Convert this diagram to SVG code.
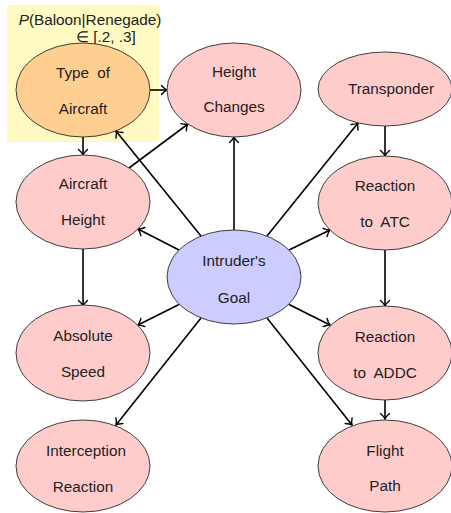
<svg xmlns="http://www.w3.org/2000/svg" width="451" height="513" viewBox="0 0 451 513">
<style>
.n{stroke:#2a2a2a;stroke-width:0.9}
.p{fill:#ffcccc}
.t{font-family:"Liberation Sans",Arial,sans-serif;font-size:15.3px;fill:#222;text-anchor:middle;dominant-baseline:central}
.c{stroke:#000;stroke-width:1.6;fill:none;marker-end:url(#a)}
</style>
<defs>
<marker id="a" markerUnits="userSpaceOnUse" markerWidth="14" markerHeight="14" viewBox="-7 -7 14 14" refX="0" refY="0" orient="auto">
<path d="M-5.5,-4.5 C-3,-1.6 -1,-0.4 0,0 C-1,0.4 -3,1.6 -5.5,4.5" fill="none" stroke="#000" stroke-width="1.4" stroke-linecap="round"/>
</marker>
</defs>
<rect x="7" y="5" width="152" height="137" fill="#fffac2"/>
<g id="label">
<text x="90" y="19" class="t" font-size="15px"><tspan font-style="italic">P</tspan>(Baloon|Renegade)</text>
<text x="106" y="36" class="t" font-size="15px">∈ [.2, .3]</text>
</g>
<g id="connectors">
<line class="c" x1="150" y1="90" x2="167" y2="90"/>
<line class="c" x1="83" y1="137" x2="83" y2="155"/>
<line class="c" x1="129" y1="168" x2="188" y2="124"/>
<line class="c" x1="201" y1="236" x2="116" y2="131"/>
<line class="c" x1="234" y1="230" x2="234" y2="137"/>
<line class="c" x1="267" y1="236" x2="358" y2="123"/>
<line class="c" x1="289" y1="250" x2="330" y2="230"/>
<line class="c" x1="179" y1="250" x2="138" y2="229"/>
<line class="c" x1="179" y1="304.5" x2="138" y2="325"/>
<line class="c" x1="289" y1="304.5" x2="330" y2="325"/>
<line class="c" x1="201" y1="318" x2="116" y2="425"/>
<line class="c" x1="267" y1="318" x2="352" y2="425"/>
<line class="c" x1="83" y1="249" x2="83" y2="306"/>
<line class="c" x1="385" y1="126" x2="385" y2="156"/>
<line class="c" x1="385" y1="250" x2="385" y2="306"/>
<line class="c" x1="385" y1="400" x2="385" y2="419"/>
</g>
<g id="type-of-aircraft">
<ellipse class="n" cx="83" cy="90" rx="67" ry="47" fill="#ffcf92"/>
<text class="t" x="83" y="72" word-spacing="4">Type of</text>
<text class="t" x="83" y="108">Aircraft</text>
</g>
<g id="height-changes">
<ellipse class="n p" cx="234" cy="90" rx="67" ry="47"/>
<text class="t" x="234" y="71">Height</text>
<text class="t" x="234" y="106">Changes</text>
</g>
<g id="transponder">
<ellipse class="n p" cx="385" cy="89" rx="67" ry="37"/>
<text class="t" x="391" y="88">Transponder</text>
</g>
<g id="aircraft-height">
<ellipse class="n p" cx="83" cy="202" rx="67" ry="47"/>
<text class="t" x="83" y="183">Aircraft</text>
<text class="t" x="83" y="219">Height</text>
</g>
<g id="reaction-to-atc">
<ellipse class="n p" cx="385" cy="203" rx="67" ry="47"/>
<text class="t" x="385" y="185">Reaction</text>
<text class="t" x="385" y="221" word-spacing="4">to ATC</text>
</g>
<g id="intruders-goal">
<ellipse class="n" cx="234" cy="277" rx="67" ry="47" fill="#ccccff"/>
<text class="t" x="234" y="260">Intruder's</text>
<text class="t" x="234" y="297">Goal</text>
</g>
<g id="absolute-speed">
<ellipse class="n p" cx="83" cy="353" rx="67" ry="48"/>
<text class="t" x="83" y="335">Absolute</text>
<text class="t" x="83" y="371">Speed</text>
</g>
<g id="reaction-to-addc">
<ellipse class="n p" cx="385" cy="353" rx="67" ry="47"/>
<text class="t" x="385" y="336">Reaction</text>
<text class="t" x="385" y="372" word-spacing="4">to ADDC</text>
</g>
<g id="interception-reaction">
<ellipse class="n p" cx="83" cy="466" rx="67" ry="46"/>
<text class="t" x="86" y="450">Interception</text>
<text class="t" x="83" y="486">Reaction</text>
</g>
<g id="flight-path">
<ellipse class="n p" cx="385" cy="466" rx="67" ry="46"/>
<text class="t" x="385" y="450">Flight</text>
<text class="t" x="385" y="485">Path</text>
</g>
</svg>
